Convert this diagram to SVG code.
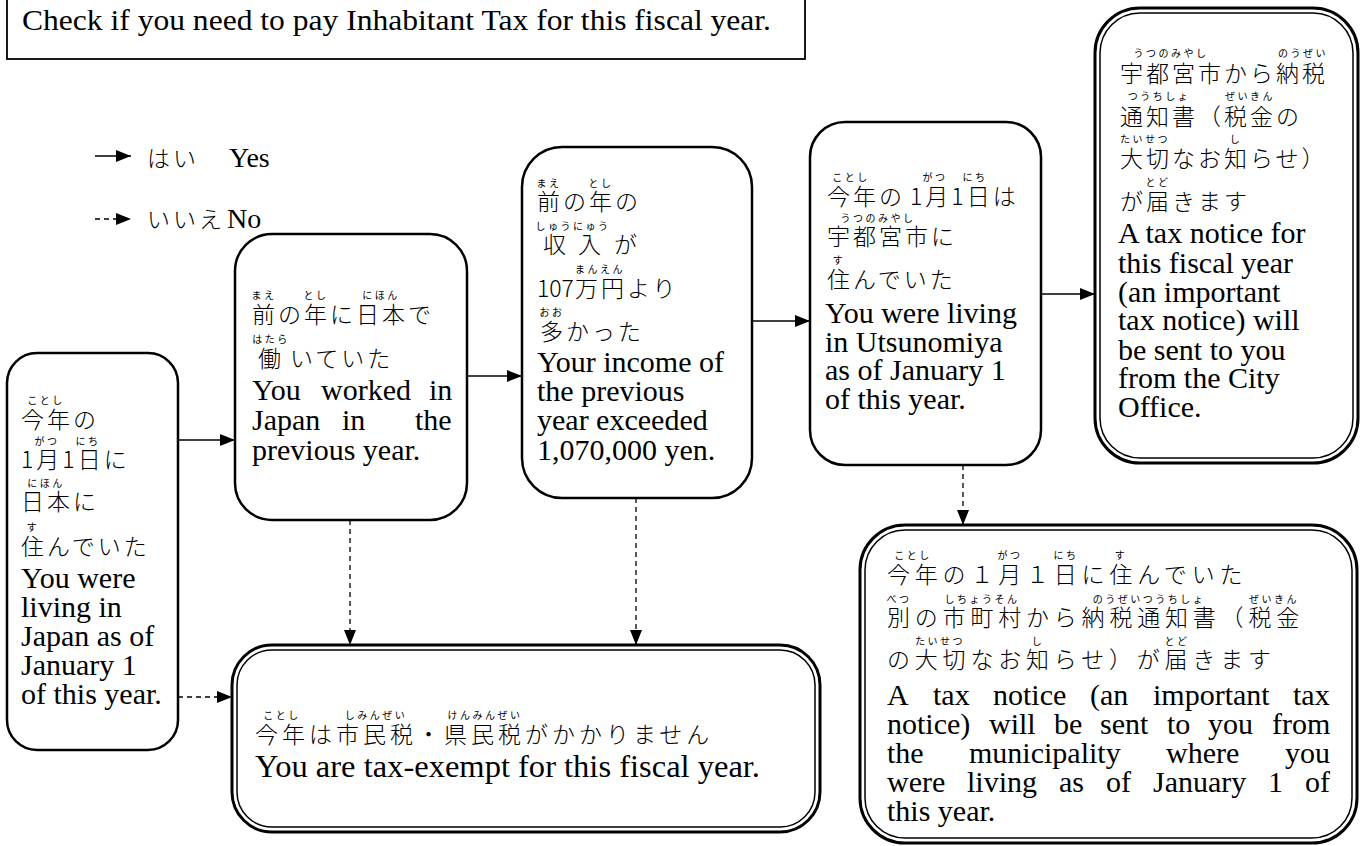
<svg xmlns="http://www.w3.org/2000/svg" width="1363" height="846" viewBox="0 0 1363 846">
<style>
.en{font-family:"Liberation Serif","Times New Roman",serif;font-size:30px;fill:#000}
.jp{font-family:"Noto Sans CJK JP",sans-serif;font-size:23px;letter-spacing:3px;font-weight:300;fill:#000}
.rb{font-family:"Noto Sans CJK JP",sans-serif;font-size:10px;letter-spacing:2.5px;text-anchor:middle;fill:#000}
.box{fill:#fff;stroke:#000;stroke-width:2.5}
.dbo{fill:#fff;stroke:#000;stroke-width:3}
.dbi{fill:none;stroke:#000;stroke-width:1.5}
.solid{stroke:#000;stroke-width:1.5;fill:none;marker-end:url(#ah)}
.dash{stroke:#000;stroke-width:1.3;stroke-dasharray:5 4;fill:none;marker-end:url(#ah)}
</style>
<defs>
<marker id="ah" markerUnits="userSpaceOnUse" markerWidth="15" markerHeight="12" refX="15" refY="6" orient="auto">
<path d="M0,0 L15,6 L0,12 z" fill="#000"/>
</marker>
</defs>
<rect width="1363" height="846" fill="#fff"/>

<g id="header">
<rect x="7" y="-3" width="798" height="62" fill="#fff" stroke="#000" stroke-width="1.8"/>
<text class="en" x="22" y="30" textLength="749" lengthAdjust="spacingAndGlyphs">Check if you need to pay Inhabitant Tax for this fiscal year.</text>
</g>

<g id="legend">
<line class="solid" x1="95" y1="156" x2="131" y2="156"/>
<text class="jp" x="147" y="167">はい</text>
<text class="en" x="229" y="167" style="font-size:28px">Yes</text>
<line class="dash" x1="95" y1="219" x2="131" y2="219"/>
<text class="jp" x="147" y="228">いいえ</text>
<text class="en" x="227" y="228" style="font-size:28px">No</text>
</g>

<g id="connectors">
<line class="solid" x1="178" y1="440" x2="235" y2="440"/>
<line class="dash" x1="178" y1="697" x2="232" y2="697"/>
<line class="solid" x1="467" y1="376" x2="522" y2="376"/>
<line class="dash" x1="350" y1="520" x2="350" y2="645"/>
<line class="solid" x1="752" y1="321" x2="810" y2="321"/>
<line class="dash" x1="636" y1="498" x2="636" y2="645"/>
<line class="solid" x1="1041" y1="294" x2="1095" y2="294"/>
<line class="dash" x1="963" y1="465" x2="963" y2="525"/>
</g>

<g id="n1">
<rect class="box" x="7" y="353" width="171" height="397" rx="30"/>
<text class="rb" x="46" y="404">ことし</text>
<text class="jp" x="21" y="428">今年の</text>
<text class="rb" x="47" y="445">がつ</text>
<text class="rb" x="88" y="445">にち</text>
<text class="jp" x="21" y="468">1<tspan>月</tspan>1<tspan>日に</tspan></text>
<text class="rb" x="46" y="487">にほん</text>
<text class="jp" x="21" y="510">日本に</text>
<text class="rb" x="33" y="531">す</text>
<text class="jp" x="21" y="555">住んでいた</text>
<text class="en" x="21" y="588">You were</text>
<text class="en" x="21" y="617">living in</text>
<text class="en" x="21" y="646">Japan as of</text>
<text class="en" x="21" y="675">January 1</text>
<text class="en" x="21" y="704">of this year.</text>
</g>

<g id="n2">
<rect class="box" x="235" y="234" width="232" height="286" rx="37"/>
<text class="rb" x="264" y="299">まえ</text>
<text class="rb" x="316" y="299">とし</text>
<text class="rb" x="381" y="299">にほん</text>
<text class="jp" x="252" y="323">前の年に日本で</text>
<text class="rb" x="271" y="343">はたら</text>
<text class="jp" x="258" y="367">働</text>
<text class="jp" x="290" y="367">いていた</text>
<text class="en" y="400"><tspan x="252">You</tspan><tspan x="321">worked</tspan><tspan x="429">in</tspan></text>
<text class="en" y="430"><tspan x="252">Japan</tspan><tspan x="342">in</tspan><tspan x="415">the</tspan></text>
<text class="en" x="252" y="460">previous year.</text>
</g>

<g id="n3">
<rect class="box" x="522" y="147" width="230" height="351" rx="40"/>
<text class="rb" x="549" y="187">まえ</text>
<text class="rb" x="601" y="187">とし</text>
<text class="jp" x="537" y="210">前の年の</text>
<text class="rb" x="573" y="230">しゅうにゅう</text>
<text class="jp" x="543" y="253">収</text>
<text class="jp" x="578" y="253">入</text>
<text class="jp" x="614" y="253">が</text>
<text class="rb" x="600" y="273">まんえん</text>
<text class="jp" x="537" y="297" style="letter-spacing:0">107</text>
<text class="jp" x="575" y="297">万円より</text>
<text class="rb" x="552" y="316">おお</text>
<text class="jp" x="540" y="340">多かった</text>
<text class="en" x="537" y="372">Your income of</text>
<text class="en" x="537" y="401">the previous</text>
<text class="en" x="537" y="430">year exceeded</text>
<text class="en" x="537" y="460">1,070,000 yen.</text>
</g>

<g id="n4">
<rect class="box" x="810" y="122" width="231" height="343" rx="35"/>
<text class="rb" x="851" y="181">ことし</text>
<text class="rb" x="935" y="181">がつ</text>
<text class="rb" x="975" y="181">にち</text>
<text class="jp" x="827" y="205">今年の</text>
<text class="jp" x="910" y="205">1<tspan>月</tspan>1<tspan>日は</tspan></text>
<text class="rb" x="878" y="222">うつのみやし</text>
<text class="jp" x="827" y="245">宇都宮市に</text>
<text class="rb" x="839" y="264">す</text>
<text class="jp" x="827" y="288">住んでいた</text>
<text class="en" x="825" y="323">You were living</text>
<text class="en" x="825" y="352">in Utsunomiya</text>
<text class="en" x="825" y="380">as of January 1</text>
<text class="en" x="825" y="409">of this year.</text>
</g>

<g id="n5">
<rect class="dbo" x="1095" y="8" width="263" height="455" rx="45"/>
<rect class="dbi" x="1100" y="13" width="253" height="445" rx="40"/>
<text class="rb" x="1171" y="57">うつのみやし</text>
<text class="rb" x="1303" y="57">のうぜい</text>
<text class="jp" x="1120" y="82">宇都宮市から納税</text>
<text class="rb" x="1159" y="100">つうちしょ</text>
<text class="rb" x="1250" y="100">ぜいきん</text>
<text class="jp" x="1120" y="125">通知書（税金の</text>
<text class="rb" x="1145" y="143">たいせつ</text>
<text class="rb" x="1236" y="143">し</text>
<text class="jp" x="1120" y="167">大切なお知らせ）</text>
<text class="rb" x="1158" y="186">とど</text>
<text class="jp" x="1120" y="210">が届きます</text>
<text class="en" x="1118" y="243">A tax notice for</text>
<text class="en" x="1118" y="273">this fiscal year</text>
<text class="en" x="1118" y="302">(an important</text>
<text class="en" x="1118" y="330">tax notice) will</text>
<text class="en" x="1118" y="360">be sent to you</text>
<text class="en" x="1118" y="388">from the City</text>
<text class="en" x="1118" y="417">Office.</text>
</g>

<g id="exempt">
<rect class="dbo" x="232" y="645" width="588" height="187" rx="40"/>
<rect class="dbi" x="237" y="650" width="578" height="177" rx="35"/>
<text class="rb" x="282" y="719">ことし</text>
<text class="rb" x="376" y="719">しみんぜい</text>
<text class="rb" x="485" y="719">けんみんぜい</text>
<text class="jp" x="255" y="743" style="letter-spacing:4px">今年は市民税・県民税がかかりません</text>
<text class="en" x="255" y="777" style="font-size:31px" textLength="505" lengthAdjust="spacingAndGlyphs">You are tax-exempt for this fiscal year.</text>
</g>

<g id="other">
<rect class="dbo" x="860" y="525" width="497" height="318" rx="45"/>
<rect class="dbi" x="865" y="530" width="487" height="308" rx="40"/>
<text class="rb" x="913" y="559">ことし</text>
<text class="rb" x="1010" y="559">がつ</text>
<text class="rb" x="1066" y="559">にち</text>
<text class="rb" x="1121" y="559">す</text>
<text class="jp" x="887" y="583" style="letter-spacing:4.8px">今年の１月１日に住んでいた</text>
<text class="rb" x="899" y="603">べつ</text>
<text class="rb" x="982" y="603">しちょうそん</text>
<text class="rb" x="1149" y="603">のうぜいつうちしょ</text>
<text class="rb" x="1274" y="603">ぜいきん</text>
<text class="jp" x="887" y="626" style="letter-spacing:4.8px">別の市町村から納税通知書（税金</text>
<text class="rb" x="940" y="645">たいせつ</text>
<text class="rb" x="1038" y="645">し</text>
<text class="rb" x="1177" y="645">とど</text>
<text class="jp" x="887" y="668" style="letter-spacing:4.8px">の大切なお知らせ）が届きます</text>
<text class="en" y="705"><tspan x="887">A</tspan><tspan x="933">tax</tspan><tspan x="993">notice</tspan><tspan x="1090">(an</tspan><tspan x="1153">important</tspan><tspan x="1293">tax</tspan></text>
<text class="en" y="734"><tspan x="887">notice)</tspan><tspan x="989">will</tspan><tspan x="1054">be</tspan><tspan x="1100">sent</tspan><tspan x="1167">to</tspan><tspan x="1208">you</tspan><tspan x="1272">from</tspan></text>
<text class="en" y="763"><tspan x="887">the</tspan><tspan x="969">municipality</tspan><tspan x="1166">where</tspan><tspan x="1285">you</tspan></text>
<text class="en" y="792"><tspan x="887">were</tspan><tspan x="967">living</tspan><tspan x="1059">as</tspan><tspan x="1106">of</tspan><tspan x="1153">January</tspan><tspan x="1268">1</tspan><tspan x="1305">of</tspan></text>
<text class="en" x="887" y="821">this year.</text>
</g>
</svg>
